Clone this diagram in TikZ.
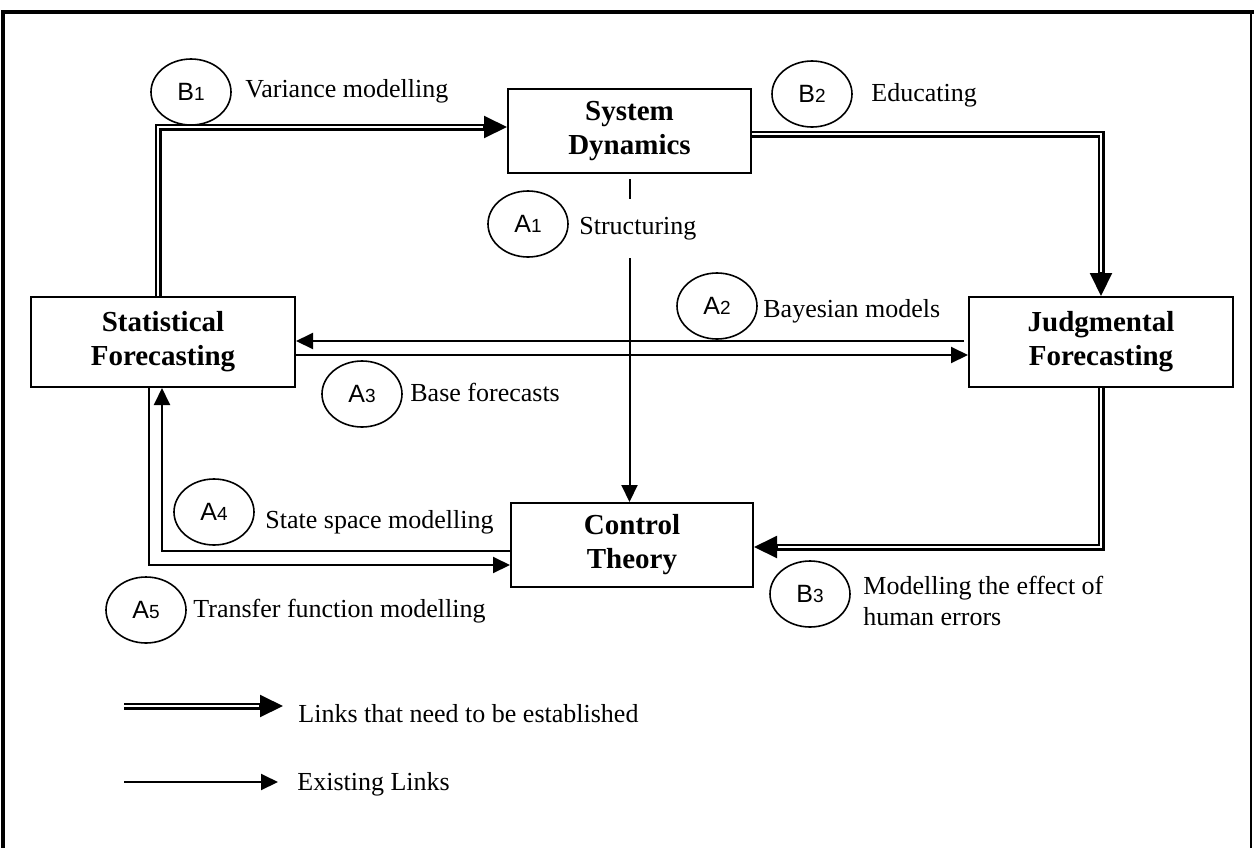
\documentclass[tikz,border=0pt]{standalone}
\usepackage{fontspec}
\setmainfont{Liberation Serif}
\setsansfont{Liberation Sans}
\usetikzlibrary{arrows.meta,shapes.geometric,calc}
\newcommand\tagtxt[2]{{\sffamily\fontsize{12.5}{12.5}\selectfont #1{\fontsize{9.5}{9.5}\selectfont #2}}}
\begin{document}
\begin{tikzpicture}[x=0.5pt,y=-0.5pt,
  box/.style={draw, line width=1pt, align=center, inner sep=0pt,
    font=\fontsize{14.5}{17}\selectfont\bfseries},
  tag/.style={draw, ellipse, line width=0.8pt, minimum width=40pt,
    minimum height=33pt, inner sep=0pt},
  lbl/.style={anchor=base west, inner sep=0pt, align=left,
    font=\fontsize{13}{15.5}\selectfont},
  single/.style={line width=1pt, -{Triangle[length=8.5pt,width=8pt]}},
  plainline/.style={line width=1pt},
  dbl/.style={line width=1.2pt, double distance=1.1pt, shorten >=9pt},
  dtip/.style={line width=1pt, -{Triangle[length=11.5pt,width=11pt]}}]
\useasboundingbox (0,0) rectangle (1254,847);
% frame
\draw[line width=2.2pt] (1,12) -- (1254,12);
\draw[line width=1.6pt] (3,11) -- (3,850);
\draw[line width=1.2pt] (1251,11) -- (1251,850);
% boxes
\node[box, minimum width=121.5pt, minimum height=42pt] (sd) at (629.5,131) {System\\Dynamics};
\node[box, minimum width=132pt, minimum height=45pt] (sf) at (163,342) {Statistical\\Forecasting};
\node[box, minimum width=132pt, minimum height=45pt] (jf) at (1101,342) {Judgmental\\Forecasting};
\node[box, minimum width=121pt, minimum height=42pt] (ct) at (632,545) {Control\\Theory};
% coordinates
\coordinate (b1) at (158,127);
\coordinate (b2) at (1101,134);
\coordinate (b3) at (1101,547);
\coordinate (ya2) at (0,341);
\coordinate (ya3) at (0,355);
\coordinate (a4) at (162,551);
\coordinate (a5) at (149,565);
% B links (double)
\draw[dbl] (sf.north -| b1) -- (b1) -- (sd.west |- b1);
\draw[dtip] ($(sd.west |- b1)+(-24,0)$) -- (sd.west |- b1);
\draw[dbl] (sd.east |- b2) -- (b2) -- (jf.north);
\draw[dtip] ($(jf.north)+(0,-24)$) -- (jf.north);
\draw[dbl] (jf.south) -- (b3) -- (ct.east |- b3);
\draw[dtip] ($(ct.east |- b3)+(24,0)$) -- (ct.east |- b3);
% A links (single)
\draw[plainline] ($(sd.south)+(0,5)$) -- ($(sd.south)+(0,25)$);
\draw[single] ($(sd.south)+(0,84)$) -- (sd.south |- ct.north);
\draw[single] ($(jf.west |- ya2)+(-4,0)$) -- (sf.east |- ya2);
\draw[single] (sf.east |- ya3) -- (jf.west |- ya3);
\draw[single] (ct.west |- a4) -- (a4) -- (a4 |- sf.south);
\draw[single] (a5 |- sf.south) -- (a5) -- (ct.west |- a5);
% tags
\node[tag] (tb1) at (191,92) {\tagtxt{B}{1}};
\node[tag] (tb2) at (812,94) {\tagtxt{B}{2}};
\node[tag] (tb3) at (810,594) {\tagtxt{B}{3}};
\node[tag] (ta1) at (528,224) {\tagtxt{A}{1}};
\node[tag] (ta2) at (717,306) {\tagtxt{A}{2}};
\node[tag] (ta3) at (362,394) {\tagtxt{A}{3}};
\node[tag] (ta4) at (214,512) {\tagtxt{A}{4}};
\node[tag] (ta5) at (146,610) {\tagtxt{A}{5}};
% labels
\node[lbl] (lb1) at (245,97) {Variance modelling};
\node[lbl] (lb2) at (871,101) {Educating};
\node[lbl] (la1) at (579,234) {Structuring};
\node[lbl] (la2) at (763,317) {Bayesian models};
\node[lbl] (la3) at (410,401) {Base forecasts};
\node[lbl] (la4) at (265,528) {State space modelling};
\node[lbl] (la5) at (193,617) {Transfer function modelling};
\node[lbl] (lb3a) at (863,594) {Modelling the effect of};
\node[lbl] (lb3b) at (863,625) {human errors};
% legend
\coordinate (l1s) at (124,706);
\coordinate (l1e) at (283,706);
\coordinate (l2s) at (124,782);
\coordinate (l2e) at (278,782);
\draw[dbl] (l1s) -- (l1e);
\draw[dtip] ($(l1e)+(-24,0)$) -- (l1e);
\draw[single] (l2s) -- (l2e);
\node[lbl] (leg1) at (298,722) {Links that need to be established};
\node[lbl] (leg2) at (297,790) {Existing Links};
\end{tikzpicture}
\end{document}
